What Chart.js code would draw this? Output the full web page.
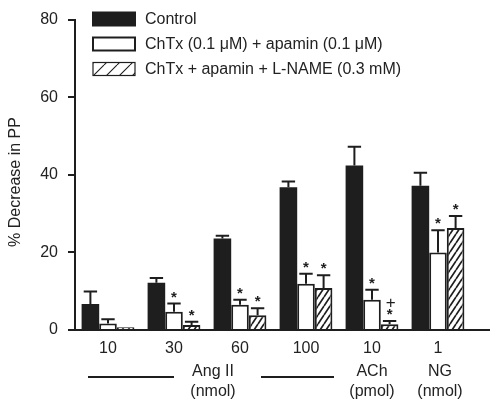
<!DOCTYPE html>
<html>
<head>
<meta charset="utf-8">
<script src="https://cdn.jsdelivr.net/npm/chart.js@4.4.1/dist/chart.umd.min.js"></script>
<style>
  html, body { margin: 0; padding: 0; background: #fff; }
  #wrap { width: 493px; height: 403px; position: relative; }
</style>
</head>
<body>
<div id="wrap"><canvas id="c" width="493" height="403"></canvas></div>
<script>
// ---- data ----
const categories = ['10', '30', '60', '100', '10', '1'];
const seriesLabels = ['Control', 'ChTx (0.1 \u03bcM) + apamin (0.1 \u03bcM)', 'ChTx + apamin + L-NAME (0.3 mM)'];
const control = [6.7, 12.2, 23.6, 36.8, 42.4, 37.2];
const controlErr = [3.2, 1.2, 0.7, 1.5, 4.8, 3.3];
const chtx = [1.7, 4.7, 6.5, 11.9, 7.8, 20.0];
const chtxErr = [1.1, 2.1, 1.3, 2.6, 2.6, 5.7];
const lname = [0.7, 1.3, 3.8, 10.8, 1.5, 26.3];
const lnameErr = [0.0, 0.8, 1.8, 3.3, 0.8, 3.1];
const controlSig = ['', '', '', '', '', ''];
const chtxSig = ['', '*', '*', '*', '*', '*'];
const lnameSig = ['', '*', '*', '*', '*', '*'];
const lnamePlus = ['', '', '', '', '+', ''];
const yTicks = [0, 20, 40, 60, 80];
const yTitle = '% Decrease in PP';
const groupNotes = [
  { text: ['Ang II', '(nmol)'] },
  { text: ['ACh', '(pmol)'] },
  { text: ['NG', '(nmol)'] }
];

const INK = '#1e1e1e';
const FONT = '"Liberation Sans", Arial, Helvetica, sans-serif';

function makeHatch(w, h, lw) {
  const pc = document.createElement('canvas');
  pc.width = w; pc.height = h;
  const g = pc.getContext('2d');
  g.fillStyle = '#fff';
  g.fillRect(0, 0, w, h);
  g.strokeStyle = INK;
  g.lineWidth = lw;
  g.beginPath();
  for (let k = -1; k <= 1; k++) {
    g.moveTo(k * w, h);
    g.lineTo(k * w + w, 0);
  }
  g.stroke();
  return document.getElementById('c').getContext('2d').createPattern(pc, 'repeat');
}
const hatch = makeHatch(6, 9, 1.7);
const legendHatch = makeHatch(13, 13, 1.1);

const errs = [controlErr, chtxErr, lnameErr];
const sigs = [controlSig, chtxSig, lnameSig];
const plus = [['', '', '', '', '', ''], ['', '', '', '', '', ''], lnamePlus];

const decorPlugin = {
  id: 'decor',
  afterDatasetsDraw(chart) {
    const ctx = chart.ctx;
    const ys = chart.scales.y;
    const xs = chart.scales.x;
    const area = chart.chartArea;
    ctx.save();
    // x axis line
    ctx.strokeStyle = INK;
    ctx.lineWidth = 2;
    const y0 = ys.getPixelForValue(0);
    ctx.beginPath();
    ctx.moveTo(area.left, y0);
    ctx.lineTo(area.right + 19, y0);
    ctx.stroke();
    // error bars & markers
    chart.data.datasets.forEach((ds, di) => {
      const meta = chart.getDatasetMeta(di);
      meta.data.forEach((bar, i) => {
        const v = ds.data[i];
        const e = errs[di][i];
        const top = ys.getPixelForValue(v);
        const et = ys.getPixelForValue(v + e);
        const cap = bar.width * 0.38;
        ctx.strokeStyle = INK;
        ctx.lineWidth = 2;
        if (e > 0) {
          ctx.beginPath();
          ctx.moveTo(bar.x, top);
          ctx.lineTo(bar.x, et);
          ctx.moveTo(bar.x - cap, et);
          ctx.lineTo(bar.x + cap, et);
          ctx.stroke();
        }
        ctx.fillStyle = INK;
        ctx.textAlign = 'center';
        ctx.textBaseline = 'middle';
        if (sigs[di][i]) {
          ctx.font = 'bold 15px ' + FONT;
          ctx.fillText(sigs[di][i], bar.x, et - 6);
        }
        if (plus[di][i]) {
          ctx.font = '17px ' + FONT;
          ctx.fillText(plus[di][i], bar.x + 1, et - 18);
        }
      });
    });
    // legend
    const rows = [19, 44, 69];
    chart.data.datasets.forEach((ds, di) => {
      const cy = rows[di];
      ctx.fillStyle = di === 2 ? legendHatch : ds.backgroundColor;
      ctx.fillRect(93, cy - 6.5, 42, 13);
      ctx.strokeStyle = INK;
      ctx.lineWidth = di === 2 ? 1.2 : 2;
      ctx.strokeRect(93, cy - 6.5, 42, 13);
      ctx.fillStyle = '#222';
      ctx.font = '16px ' + FONT;
      ctx.textAlign = 'left';
      ctx.textBaseline = 'middle';
      ctx.fillText(ds.label, 145, cy + 1);
    });
    // y title
    ctx.save();
    ctx.translate(16, 182);
    ctx.rotate(-Math.PI / 2);
    ctx.textAlign = 'center';
    ctx.textBaseline = 'middle';
    ctx.font = '16px ' + FONT;
    ctx.fillStyle = '#222';
    ctx.fillText(yTitle, 0, 0);
    ctx.restore();
    // group notes below x axis
    const cx = i => xs.getPixelForValue(i);
    ctx.strokeStyle = INK;
    ctx.lineWidth = 2;
    ctx.beginPath();
    ctx.moveTo(cx(0) - 20, 377); ctx.lineTo(cx(1), 377);
    ctx.moveTo(cx(3) - 45, 377); ctx.lineTo(cx(3) + 28, 377);
    ctx.stroke();
    const notePos = [(cx(1) + cx(2)) / 2 + 6, cx(4), cx(5) + 2];
    ctx.fillStyle = '#222';
    ctx.font = '16px ' + FONT;
    ctx.textAlign = 'center';
    ctx.textBaseline = 'middle';
    groupNotes.forEach((n, k) => {
      ctx.fillText(n.text[0], notePos[k], 372);
      ctx.fillText(n.text[1], notePos[k], 392);
    });
    ctx.restore();
  }
};

new Chart(document.getElementById('c'), {
  type: 'bar',
  data: {
    labels: categories,
    datasets: [
      { label: seriesLabels[0], data: control, backgroundColor: INK, borderColor: INK, borderWidth: 0 },
      { label: seriesLabels[1], data: chtx, backgroundColor: '#ffffff', borderColor: INK, borderWidth: 2 },
      { label: seriesLabels[2], data: lname, backgroundColor: hatch, borderColor: INK, borderWidth: 2 }
    ]
  },
  options: {
    responsive: false,
    animation: false,
    devicePixelRatio: 1,
    categoryPercentage: 0.8,
    barPercentage: 1.0,
    layout: { padding: { top: 10, right: 22, left: 0, bottom: 0 } },
    plugins: { legend: { display: false }, tooltip: { enabled: false } },
    scales: {
      x: {
        grid: { display: false, drawTicks: false },
        border: { display: false },
        ticks: { color: '#222', font: { family: FONT, size: 16 }, padding: 9, maxRotation: 0 },
        afterFit(s) { s.height = 73; }
      },
      y: {
        min: 0, max: 80,
        afterBuildTicks(s) { s.ticks = yTicks.map(v => ({ value: v })); },
        grid: { drawOnChartArea: false, drawTicks: true, tickLength: 7, lineWidth: 2, color: INK },
        border: { display: true, width: 2, color: INK },
        ticks: { color: '#222', font: { family: FONT, size: 16 }, padding: 10 },
        afterFit(s) { s.width = 75; }
      }
    }
  },
  plugins: [decorPlugin]
});
</script>
</body>
</html>
